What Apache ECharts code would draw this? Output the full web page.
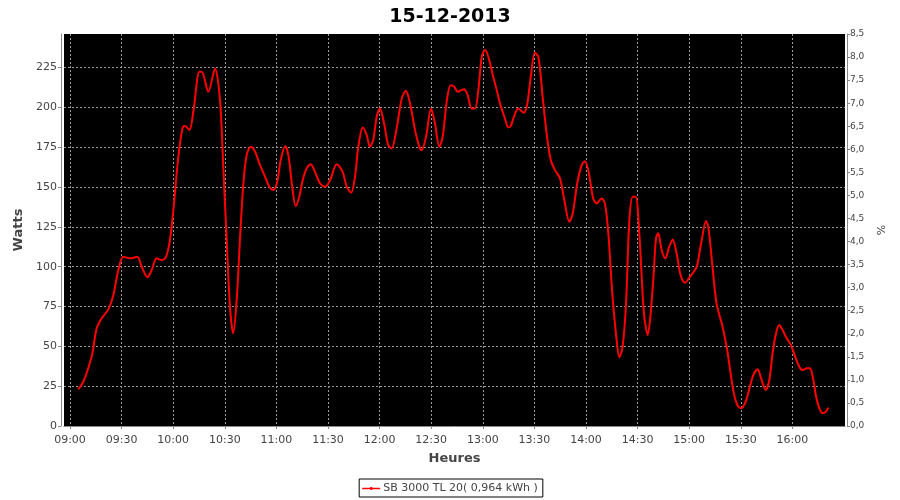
<!DOCTYPE html>
<html>
<head>
<meta charset="utf-8">
<script src="https://cdn.jsdelivr.net/npm/echarts@6/dist/echarts.min.js"></script>
<style>html,body{margin:0;padding:0;background:#fff}#c{width:900px;height:500px}</style>
</head>
<body>
<div id="c"></div>
<script>
// time in minutes since midnight
const minutes = [544.8,547.7,550.6,553,555.5,558.4,562.3,565.2,568.1,571,574.9,579.1,581.7,585,587.5,590.4,593.3,595.8,598.1,600.1,603,605.5,606.9,609.4,611.7,615.2,616.6,620.4,624.3,627.2,629.1,631.1,633,634.9,636.9,638.8,640.8,642.7,645.1,647.6,650.1,653.4,655.9,658.2,660.5,662.5,665.2,667.1,669.2,671.2,673.3,675.3,677.6,679.9,682.4,685.3,688.3,691.2,695.1,698.5,700.9,703.4,705.7,707.6,710.2,712.5,714.4,716.3,718.3,720.2,722.6,725,727,729.9,732.9,735.3,737.7,740.6,743.1,744.4,747,749.9,752.2,754.7,756.7,759,761.3,763.4,765.4,769.1,771.2,773.5,775.5,777.4,779.4,781.3,783.2,786.1,788.1,790,792.9,794.8,796.2,798.1,800.6,803.9,805.9,807.9,810.3,812.3,814.8,817.1,819.5,822,824.9,827.4,830.3,832.3,834.9,837.5,839.4,841.3,844.2,846.2,849.1,851,853,855.3,857.8,859.4,861.3,863.3,865.2,867.2,868.9,871,873.7,875.9,877.6,879.5,880.7,882,884,886.1,888.4,890.4,892.7,895,897.5,900.5,903.4,904.7,907.3,909.8,911.1,913,915.9,919.4,922.1,924.1,926,928,930.1,932.8,935.3,937.3,939.8,942.1,944.5,946.6,948.5,950.5,952.4,954.3,956.7,959.2,961.5,964,966,968.3,970.2,972.2,973.8,975.7,977.6,979.5,980.9];
const watts = [23,27.8,36.2,45.6,61.3,67.6,73.2,82.2,97.9,106.2,105.2,106.2,99.9,93.3,97.9,105.2,104.1,106.2,116.7,135.5,169,187.4,188.2,185.7,197.2,222.3,222.3,209.7,224.4,204.5,162.7,116.7,74.8,58.2,79,116.7,152.3,170,175.2,172.1,164.8,156.4,150.1,148.1,153.3,166.9,175.7,169,150.1,138,143.9,154.3,161.7,164.2,159.5,152.3,150.1,154.3,164.2,159.5,150.1,146.4,156.4,175.2,187.4,182.6,175.2,179.4,194,199.3,189.9,176.3,174.2,186.8,205.6,210.4,202.4,185.7,175.2,173.1,181.5,199.3,189.9,175.2,181.5,203.5,213.9,212.9,209.7,211.4,207.7,199.3,199.3,210.8,231.7,235.9,231.7,219.1,210.8,202.4,193,187.4,188.2,194,199.3,196.6,202.4,219.1,234.2,231.7,206.6,183.6,166.9,160.6,155.4,141.8,128.2,133.4,152.3,163.7,166.2,160.6,142.8,139.7,142.8,139.7,120.9,83.2,54,43.1,49.8,77,129.2,143.9,143.9,120.9,70.7,57.1,70.7,97.9,117.8,120.9,110.4,105.2,112.5,117.1,108.3,94.7,89.9,93.7,97.9,101,116.7,128.6,125,106.2,77,62.3,47.7,33.1,20.5,13.2,11.1,15.2,24.7,32,35.6,28.9,22.6,28.9,45.6,58.2,63.4,60.2,55,50.8,43.9,37.2,35.1,36.2,36.2,28.9,18.4,11.1,8,9,11.5];
const xTicks = [540,570,600,630,660,690,720,750,780,810,840,870,900,930,960];
const yTicks = [0,25,50,75,100,125,150,175,200,225];
const titleText = '15-12-2013';
const seriesName = 'SB 3000 TL 20( 0,964 kWh )';

const data = minutes.map((m, i) => [m, watts[i]]);
const pad = n => (n < 10 ? '0' : '') + n;
const fmtTime = v => pad(Math.floor(v / 60)) + ':' + pad(Math.round(v % 60));
const font = 'DejaVu Sans';

const chart = echarts.init(document.getElementById('c'), null, {renderer: 'canvas'});
chart.setOption({
  backgroundColor: '#fff',
  animation: false,
  textStyle: {fontFamily: font},
  title: {
    text: titleText, left: 'center', top: 3,
    textStyle: {fontFamily: font, fontSize: 19, fontWeight: 'bold', color: '#000'}
  },
  legend: {
    bottom: 3, left: 'center',
    borderColor: '#000', borderWidth: 1, borderRadius: 0,
    padding: [4, 5, 3, 3],
    itemWidth: 18, itemHeight: 6, itemGap: 4,
    icon: 'path://M0,2.2H18V3.8H0Z M8,1.5H10V4.5H8Z',
    textStyle: {fontFamily: font, fontSize: 11, color: '#444', padding: [0,0,0,-2]},
    data: [{name: seriesName, itemStyle: {color: '#ff0000'}}]
  },
  grid: {
    left: 64, right: 55, top: 34, bottom: 74,
    show: true, backgroundColor: '#000', borderWidth: 0
  },
  xAxis: {
    type: 'value', min: 536.5, max: 990.6, offset: 4,
    name: 'Heures', nameLocation: 'middle', nameGap: 22,
    nameTextStyle: {fontFamily: font, fontSize: 13, fontWeight: 'bold', color: '#444'},
    axisLine: {show: true, lineStyle: {color: '#888', width: 1}},
    axisTick: {show: true, length: 3, customValues: xTicks, lineStyle: {color: '#888'}},
    axisLabel: {customValues: xTicks, formatter: fmtTime, fontFamily: font, fontSize: 11, color: '#444', margin: 5},
    splitLine: {show: true, lineStyle: {color: '#999', type: [2, 2], width: 1}}
  },
  yAxis: [{
    type: 'value', min: 0, max: 246, position: 'left', offset: 3,
    name: 'Watts', nameLocation: 'middle', nameGap: 31, nameRotate: 90,
    nameTextStyle: {fontFamily: font, fontSize: 13, fontWeight: 'bold', color: '#444'},
    axisLine: {show: true, lineStyle: {color: '#888', width: 1}},
    axisTick: {show: true, length: 3, customValues: yTicks, lineStyle: {color: '#888'}},
    axisLabel: {customValues: yTicks, fontFamily: font, fontSize: 11, color: '#444', margin: 4},
    splitLine: {show: true, lineStyle: {color: '#999', type: [2, 2], width: 1}}
  }, {
    type: 'value', min: 0, max: 8.5, interval: 0.5, position: 'right', offset: 2,
    name: '%', nameLocation: 'middle', nameGap: 30, nameRotate: 90,
    nameTextStyle: {fontFamily: font, fontSize: 11, color: '#444'},
    axisLine: {show: true, lineStyle: {color: '#888', width: 1}},
    axisTick: {show: true, length: 3, lineStyle: {color: '#888'}},
    axisLabel: {formatter: v => v.toFixed(1).replace('.', ','), fontFamily: font, fontSize: 9, color: '#444', margin: 3},
    splitLine: {show: false}
  }],
  series: [{
    name: seriesName, type: 'line', yAxisIndex: 0,
    data: data, showSymbol: false, smooth: 0.3,
    lineStyle: {color: '#ff0000', width: 2},
    itemStyle: {color: '#ff0000'}
  }]
});
</script>
</body>
</html>
